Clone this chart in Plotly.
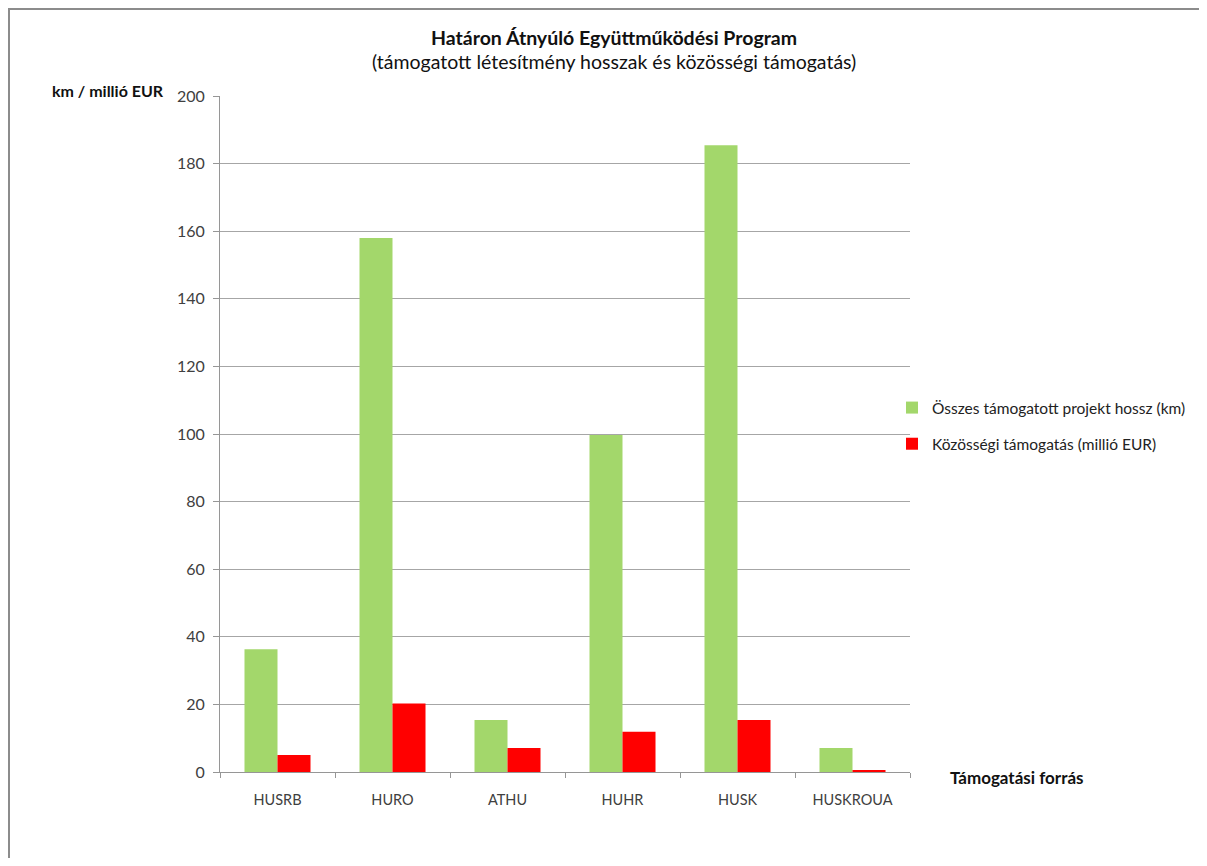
import plotly.graph_objects as go

categories = ["HUSRB", "HURO", "ATHU", "HUHR", "HUSK", "HUSKROUA"]
hossz_km = [36.3, 158.0, 15.4, 99.7, 185.4, 7.1]
tamogatas_meur = [5.0, 20.3, 7.1, 11.9, 15.4, 0.3]
y_ticks = [0, 20, 40, 60, 80, 100, 120, 140, 160, 180, 200]

FONT = "Lato, Carlito, Calibri, sans-serif"

fig = go.Figure()
fig.add_trace(go.Bar(x=categories, y=hossz_km, name="Összes támogatott projekt hossz (km)",
                     marker=dict(color="#a3d76b", line=dict(width=0)), legendgroup="a"))
fig.add_trace(go.Bar(x=categories, y=tamogatas_meur, name="Közösségi támogatás (millió EUR)",
                     marker=dict(color="#ff0000", line=dict(width=0)), legendgroup="b"))

# figure is placed 8px from page top-left (default body margin)
W, H = 1191, 850
L, T = 212, 88
pw, ph = 690, 676
R, B = W - L - pw, H - T - ph

def px_x(p):
    return (p - L) / pw

def px_y(p):
    return (H - B - p) / ph

fig.update_layout(
    width=W, height=H,
    margin=dict(l=L, r=R, t=T, b=B, autoexpand=False),
    paper_bgcolor="white", plot_bgcolor="white",
    barmode="group", bargap=0.426, bargroupgap=0,
    font=dict(family=FONT, color="#404040", size=14),
    showlegend=True,
    legend=dict(xref="container", yref="container", x=884 / W, y=1 - 418 / H,
                xanchor="left", yanchor="middle", bgcolor="rgba(0,0,0,0)",
                font=dict(size=15.5, color="#222222"), tracegroupgap=13,
                traceorder="grouped", itemwidth=30),
    xaxis=dict(type="category", showline=True, linecolor="#969696", linewidth=1,
               ticks="outside", tickson="boundaries", ticklen=5, tickcolor="#969696",
               ticklabelstandoff=15, automargin=False,
               tickfont=dict(size=14.5, color="#404040"), showgrid=False),
    yaxis=dict(range=[0, 200], tickvals=y_ticks, showline=True, linecolor="#969696",
               linewidth=1, ticks="outside", ticklen=6, tickcolor="#969696",
               ticklabelstandoff=5, automargin=False,
               showgrid=True, gridcolor="#a6a6a6", gridwidth=1, zeroline=False,
               tickfont=dict(size=16, color="#404040")),
    annotations=[
        dict(text="<b>Határon Átnyúló Együttműködési Program</b>", xref="paper", yref="paper",
             x=px_x(606), y=px_y(29), xanchor="center", yanchor="middle", showarrow=False,
             font=dict(size=19.5, color="#111111")),
        dict(text="(támogatott létesítmény hosszak és közösségi támogatás)", xref="paper", yref="paper",
             x=px_x(606), y=px_y(53), xanchor="center", yanchor="middle", showarrow=False,
             font=dict(size=19.5, color="#111111")),
        dict(text="<b>km / millió EUR</b>", xref="paper", yref="paper",
             x=px_x(42), y=px_y(82), xanchor="left", yanchor="middle", showarrow=False,
             font=dict(size=16, color="#111111")),
        dict(text="<b>Támogatási forrás</b>", xref="paper", yref="paper",
             x=px_x(940), y=px_y(769), xanchor="left", yanchor="middle", showarrow=False,
             font=dict(size=17, color="#111111")),
    ],
    shapes=[
        dict(type="rect", xref="paper", yref="paper", x0=px_x(1), y0=px_y(1000),
             x1=px_x(1400), y1=px_y(1), line=dict(color="#8c8c8c", width=2), layer="below"),
    ],
)

fig.write_html("out.html")
